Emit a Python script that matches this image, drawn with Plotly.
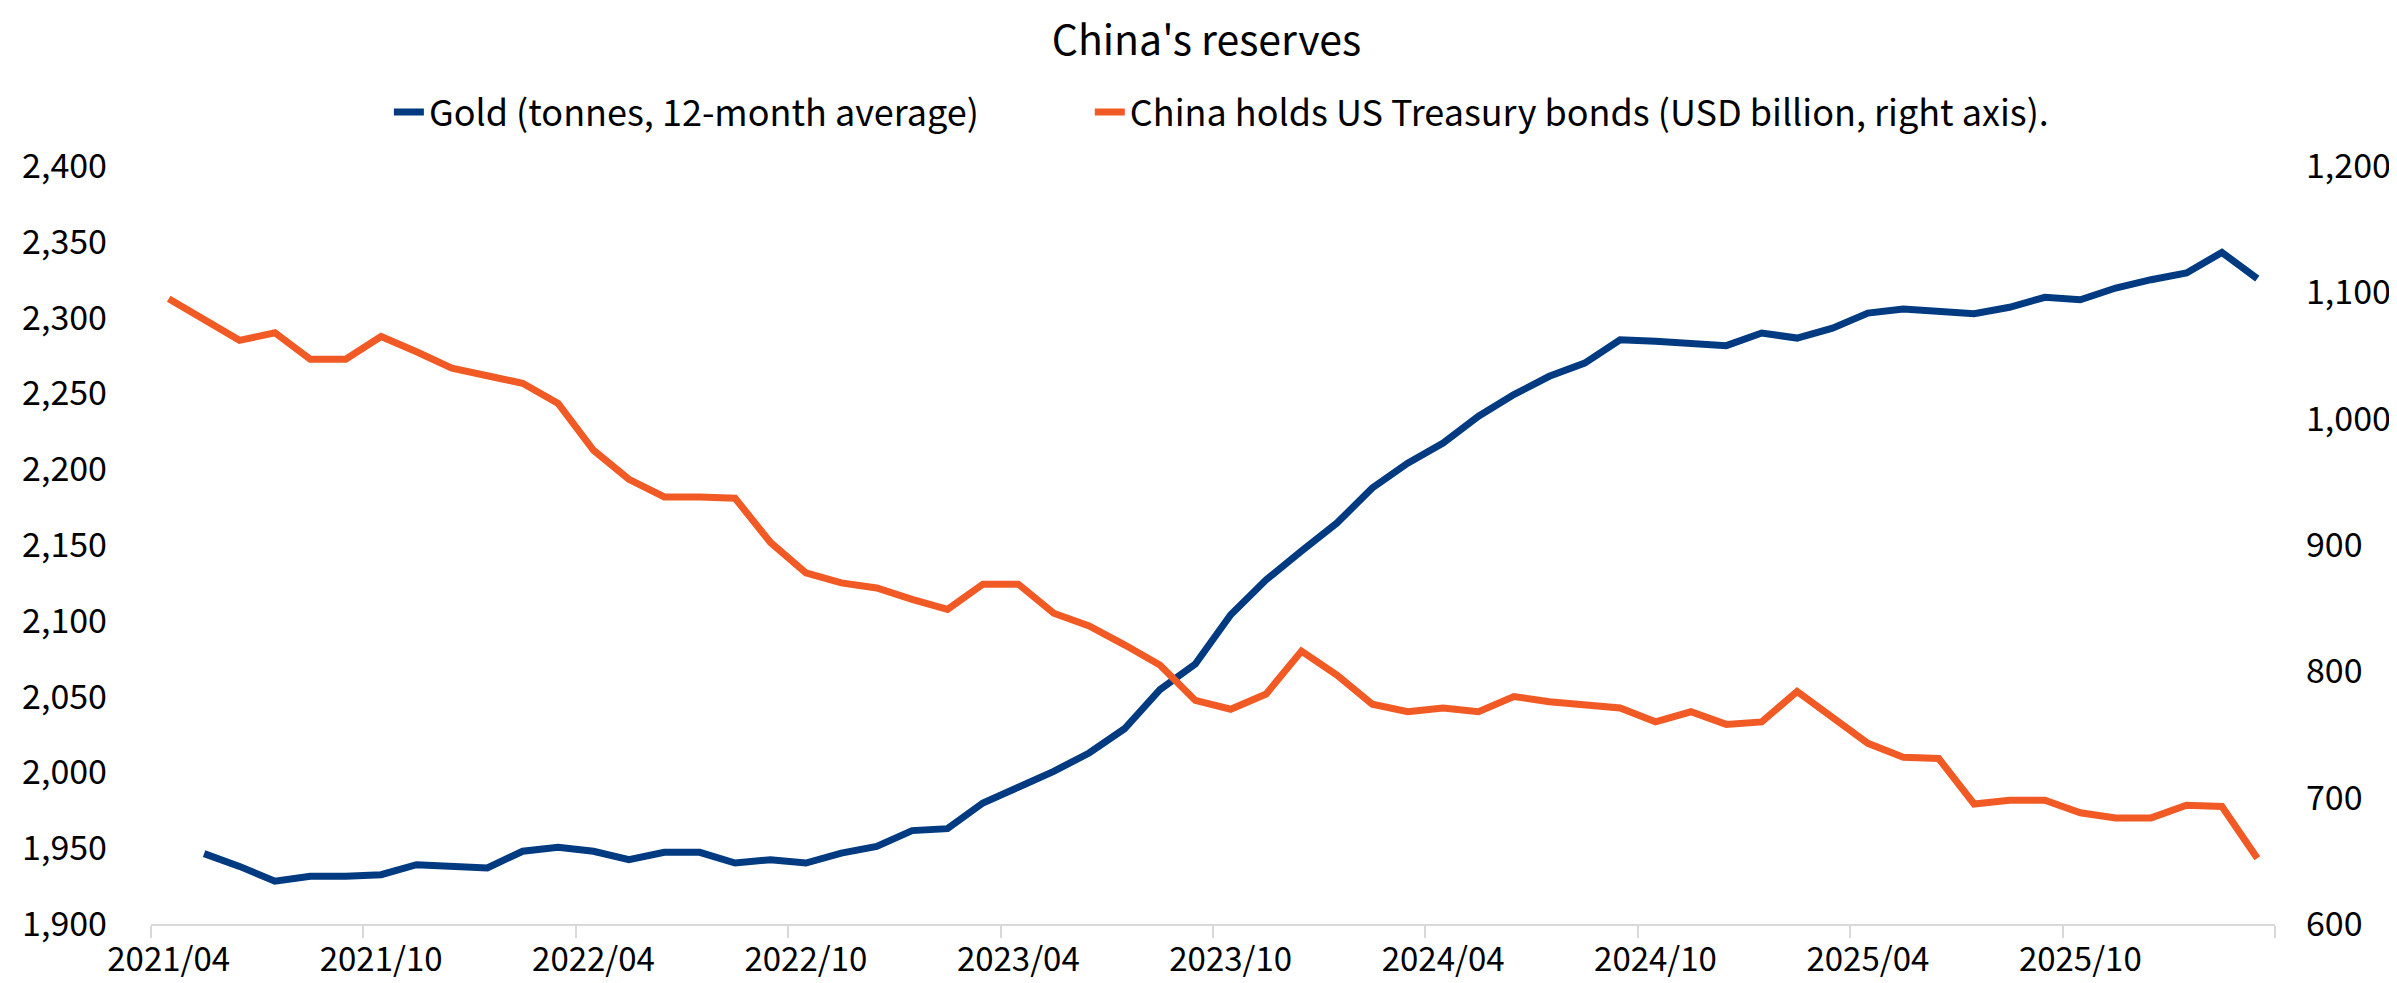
import plotly.graph_objects as go

months = [f"{2021 + (3 + k) // 12}/{(3 + k) % 12 + 1:02d}" for k in range(60)]

gold = [None, 1946.4, 1938, 1928.2, 1931.5, 1931.5, 1932.5, 1939.1, 1938.5, 1937,
        1948, 1950.6, 1948, 1942.4, 1947.3, 1947.3, 1940.2, 1942.4, 1940.2, 1946.8,
        1951.2, 1961.6, 1962.9, 1979.8, 1990.2, 2000.7, 2012.8, 2028.8, 2054.6, 2071.5,
        2104, 2127, 2146, 2164.5, 2187.6, 2204, 2217.3, 2235, 2249.2, 2261.3,
        2270, 2285.4, 2284.4, 2283.2, 2281.5, 2289.8, 2286.5, 2293, 2303, 2305.7,
        2304.6, 2302.6, 2306.8, 2313.4, 2311.8, 2319.5, 2325, 2329.4, 2343, 2325.7]

ust = [1095, 1078, 1062, 1068, 1047, 1047, 1065, 1053, 1040, 1034,
       1028, 1012, 975, 952, 938, 938, 937, 902, 878, 870,
       866, 857, 849, 869, 869, 846, 836, 821, 805, 777,
       770, 782, 816, 797, 774, 768, 771, 768, 780, 776,
       774, 771, 760, 768, 758, 760, 784, 764, 743, 732,
       731, 695, 698, 698, 688, 684, 684, 694, 693, 652]

left_ticks = list(range(1900, 2401, 50))
right_ticks = list(range(600, 1201, 100))

FONT = "Noto Sans CJK TC"
idx = list(range(len(months)))

fig = go.Figure()
fig.add_trace(go.Scatter(x=idx, y=gold, mode="lines", name="Gold (tonnes, 12-month average)",
                         line=dict(color="#003A80", width=7), yaxis="y", legend="legend"))
fig.add_trace(go.Scatter(x=idx, y=ust, mode="lines",
                         name="China holds US Treasury bonds (USD billion, right axis).",
                         line=dict(color="#F15A24", width=7), yaxis="y2", legend="legend2"))

leg_common = dict(orientation="h", xanchor="left", y=1.071, yanchor="middle",
                  font=dict(size=36, family=FONT, color="black"),
                  bgcolor="rgba(0,0,0,0)", borderwidth=0)

fig.update_layout(
    width=2397, height=983,
    paper_bgcolor="white", plot_bgcolor="white",
    margin=dict(l=143, r=130, t=158, b=67, autoexpand=False),
    font=dict(family=FONT, color="black", size=34),
    title=dict(text="China's reserves", x=0.5, xref="container", y=1 - 33 / 983,
               yanchor="middle", font=dict(size=41, family=FONT, color="black")),
    showlegend=True,
    legend=dict(x=0.112, **leg_common),
    legend2=dict(x=0.442, **leg_common),
    xaxis=dict(range=[-0.5, len(months) - 0.5], tickvals=idx[::6], ticktext=months[::6],
               ticks="", showgrid=False, zeroline=False, automargin=False,
               showline=True, linecolor="#D9D9D9", linewidth=2,
               tickfont=dict(size=33, family=FONT), ticklabelstandoff=5,
               minor=dict(tickvals=[k - 0.5 for k in range(0, 61, 6)], ticks="outside",
                          ticklen=12, tickcolor="#D9D9D9", tickwidth=2, showgrid=False)),
    yaxis=dict(range=[1900, 2400], tickvals=left_ticks,
               ticktext=[f"{v:,}" for v in left_ticks], ticks="", showgrid=False,
               zeroline=False, showline=False, automargin=False,
               tickfont=dict(size=34, family=FONT), ticklabelstandoff=43),
    yaxis2=dict(range=[600, 1200], tickvals=right_ticks,
                ticktext=[f"{v:,}" for v in right_ticks], overlaying="y", side="right",
                ticks="", showgrid=False, zeroline=False, showline=False, automargin=False,
                tickfont=dict(size=34, family=FONT), ticklabelstandoff=30),
)

fig.write_html("out.html")
